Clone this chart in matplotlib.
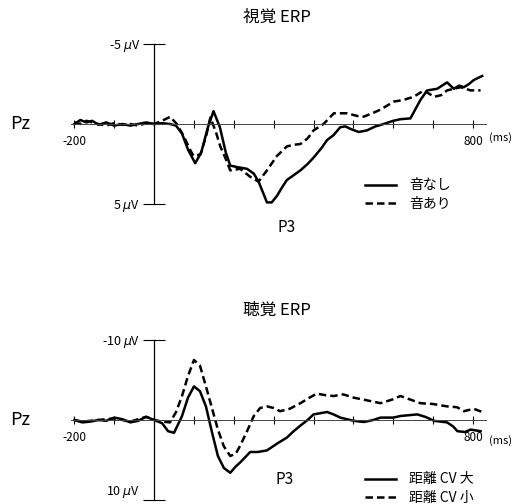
import matplotlib
matplotlib.use('Agg')
import matplotlib.pyplot as plt

plt.rcParams['font.family'] = ['Noto Sans CJK JP', 'DejaVu Sans']

# 視覚 ERP (ms, µV; 正が下)
vis_t_off = [-200, -185, -170, -155, -140, -120, -100, -80, -60, -40, -20, 0, 20, 40, 55, 70, 85, 103,
             118, 135, 149, 165, 180, 191, 210, 233, 250, 262, 275, 283, 295, 308, 320, 333, 350, 367,
             385, 400, 420, 434, 450, 467, 480, 492, 513, 534, 555, 576, 600, 618, 643, 655, 668, 685,
             710, 735, 752, 765, 777, 790, 802, 823]
vis_off = [0.0, -0.25, -0.1, -0.2, 0.05, -0.1, 0.1, 0.0, 0.1, 0.0, -0.1, 0.0, -0.05, 0.0, 0.1, 0.6, 1.6, 2.45,
           1.8, 0.2, -0.8, 0.2, 1.8, 2.6, 2.7, 2.8, 3.1, 3.6, 4.4, 4.9, 4.9, 4.5, 4.0, 3.5, 3.2, 2.9,
           2.5, 2.1, 1.5, 1.0, 0.7, 0.2, 0.15, 0.3, 0.5, 0.4, 0.15, 0.0, -0.2, -0.3, -0.35, -0.9, -1.5, -2.1,
           -2.2, -2.6, -2.2, -2.4, -2.3, -2.5, -2.75, -3.0]

vis_t_on = [-200, -185, -170, -155, -140, -120, -100, -80, -60, -40, -20, 0, 20, 40, 57, 75, 90, 99,
            116, 130, 141, 155, 166, 180, 191, 216, 241, 262, 283, 308, 333, 350, 367, 385, 400, 425,
            451, 484, 510, 526, 550, 568, 601, 625, 651, 677, 702, 720, 735, 769, 794, 819]
vis_on = [-0.1, 0.0, -0.2, -0.1, 0.0, 0.1, -0.05, 0.05, 0.0, 0.1, -0.05, 0.0, -0.2, -0.45, 0.0, 0.8, 1.6, 2.0,
          1.9, 0.8, -0.4, 0.5, 1.4, 2.2, 2.9, 2.8, 3.3, 3.6, 2.9, 2.0, 1.4, 1.3, 1.25, 0.9, 0.4, 0.0,
          -0.67, -0.67, -0.5, -0.46, -0.7, -0.9, -1.4, -1.5, -1.7, -2.1, -1.7, -1.8, -2.1, -2.3, -2.1, -2.1]

# 聴覚 ERP
aud_t_big = [-200, -180, -160, -140, -120, -100, -80, -60, -40, -20, 0, 20, 35, 50, 70, 85, 100, 115,
             130, 145, 160, 175, 191, 205, 216, 241, 260, 283, 310, 333, 350, 367, 385, 400, 434, 450,
             467, 500, 526, 550, 568, 600, 618, 660, 680, 702, 735, 750, 761, 780, 794, 819]
aud_big = [0.0, 0.3, 0.2, 0.0, 0.1, -0.3, -0.1, 0.3, 0.1, -0.4, 0.0, 0.4, 1.4, 1.6, -0.5, -2.8, -4.2, -3.6,
           -1.7, 1.5, 4.5, 6.0, 6.6, 5.8, 5.3, 4.0, 4.0, 3.8, 2.9, 2.2, 1.4, 0.7, 0.0, -0.7, -1.0, -0.7,
           -0.3, 0.1, 0.25, 0.0, -0.3, -0.3, -0.5, -0.7, -0.4, 0.1, 0.3, 0.8, 1.4, 1.5, 1.2, 1.4]

aud_t_small = [-200, -180, -160, -140, -120, -100, -80, -60, -40, -20, 0, 20, 40, 55, 70, 85, 100, 115,
               130, 145, 160, 175, 191, 205, 216, 235, 250, 266, 283, 300, 316, 340, 367, 390, 408, 430,
               450, 475, 500, 530, 568, 600, 618, 640, 668, 700, 735, 760, 777, 802, 823]
aud_small = [0.0, 0.2, 0.1, 0.0, -0.1, -0.2, 0.0, 0.2, -0.1, -0.4, 0.0, 0.2, 0.3, -1.0, -3.0, -5.5, -7.5, -6.8,
             -4.2, -1.5, 1.2, 3.3, 4.5, 4.2, 3.2, 1.2, -0.5, -1.5, -1.7, -1.5, -1.1, -1.4, -2.1, -2.8, -3.3, -3.1,
             -3.0, -3.2, -2.8, -2.5, -2.1, -2.6, -3.0, -2.6, -2.1, -2.0, -1.7, -1.6, -1.1, -1.4, -1.0]

ms_ticks = list(range(-200, 801, 100))

fig = plt.figure(figsize=(5.32, 5.04), dpi=100)
W, H = 532, 504
px_ms = 0.3986
x0 = 74.4 - 8 * px_ms
ax_w = 1040 * px_ms


def erp_axes(top_px, bot_px, lim, ylabels):
    ax = fig.add_axes([x0 / W, 1 - bot_px / H, ax_w / W, (bot_px - top_px) / H])
    ax.set_xlim(-208, 832)
    ax.set_ylim(lim, -lim)
    for s in ['top', 'right']:
        ax.spines[s].set_visible(False)
    ax.spines['left'].set_position(('data', 0))
    ax.spines['bottom'].set_position(('data', 0))
    ax.spines['left'].set_linewidth(0.9)
    ax.spines['bottom'].set_linewidth(0.7)
    ax.spines['bottom'].set_color('#444444')
    ax.set_xticks(ms_ticks)
    ax.set_xticklabels(['-200'] + [''] * 9 + ['800'])
    ax.tick_params(axis='x', direction='inout', length=6, width=0.8, pad=5, labelsize=8.5)
    ax.set_yticks([-lim, lim])
    ax.set_yticklabels(ylabels)
    ax.tick_params(axis='y', direction='inout', length=16, width=0.8, pad=2, labelsize=9)
    ax.patch.set_alpha(0)
    return ax


# 上段
ax1 = erp_axes(44, 204, 5, [r'-5 $\mu$V', r'5 $\mu$V'])
ax1.plot(vis_t_off, vis_off, color='black', lw=1.8, label='音なし')
ax1.plot(vis_t_on, vis_on, color='black', lw=1.8, ls=(0, (3, 1.6)), label='音あり')
ax1.legend(loc='upper left', bbox_to_anchor=(352 / W, 1 - 166 / H), bbox_transform=fig.transFigure,
           frameon=False, fontsize=10, handlelength=2.3, handletextpad=0.9, labelspacing=0.35)

# 下段
ax2 = erp_axes(340, 500, 10, [r'-10 $\mu$V', r'10 $\mu$V'])
ax2.plot(aud_t_big, aud_big, color='black', lw=1.8, label='距離 CV 大')
ax2.plot(aud_t_small, aud_small, color='black', lw=1.8, ls=(0, (3, 1.6)), label='距離 CV 小')
ax2.get_yticklabels()[1].set_va('bottom')
ax2.legend(loc='upper left', bbox_to_anchor=(352 / W, 1 - 460 / H), bbox_transform=fig.transFigure,
           frameon=False, fontsize=10, handlelength=2.3, handletextpad=0.9, labelspacing=0.3)

# ラベル類
fig.text(277 / W, 1 - 17 / H, '視覚 ERP', ha='center', va='center', fontsize=12)
fig.text(277 / W, 1 - 310 / H, '聴覚 ERP', ha='center', va='center', fontsize=12)
fig.text(10 / W, 1 - 124 / H, 'Pz', ha='left', va='center', fontsize=13)
fig.text(10 / W, 1 - 420 / H, 'Pz', ha='left', va='center', fontsize=13)
fig.text(287 / W, 1 - 228 / H, 'P3', ha='center', va='center', fontsize=11)
fig.text(285 / W, 1 - 479 / H, 'P3', ha='center', va='center', fontsize=11)
fig.text(489 / W, 1 - 138 / H, '(ms)', ha='left', va='center', fontsize=8)
fig.text(489 / W, 1 - 441 / H, '(ms)', ha='left', va='center', fontsize=8)

fig.savefig('out.png', dpi=100)
